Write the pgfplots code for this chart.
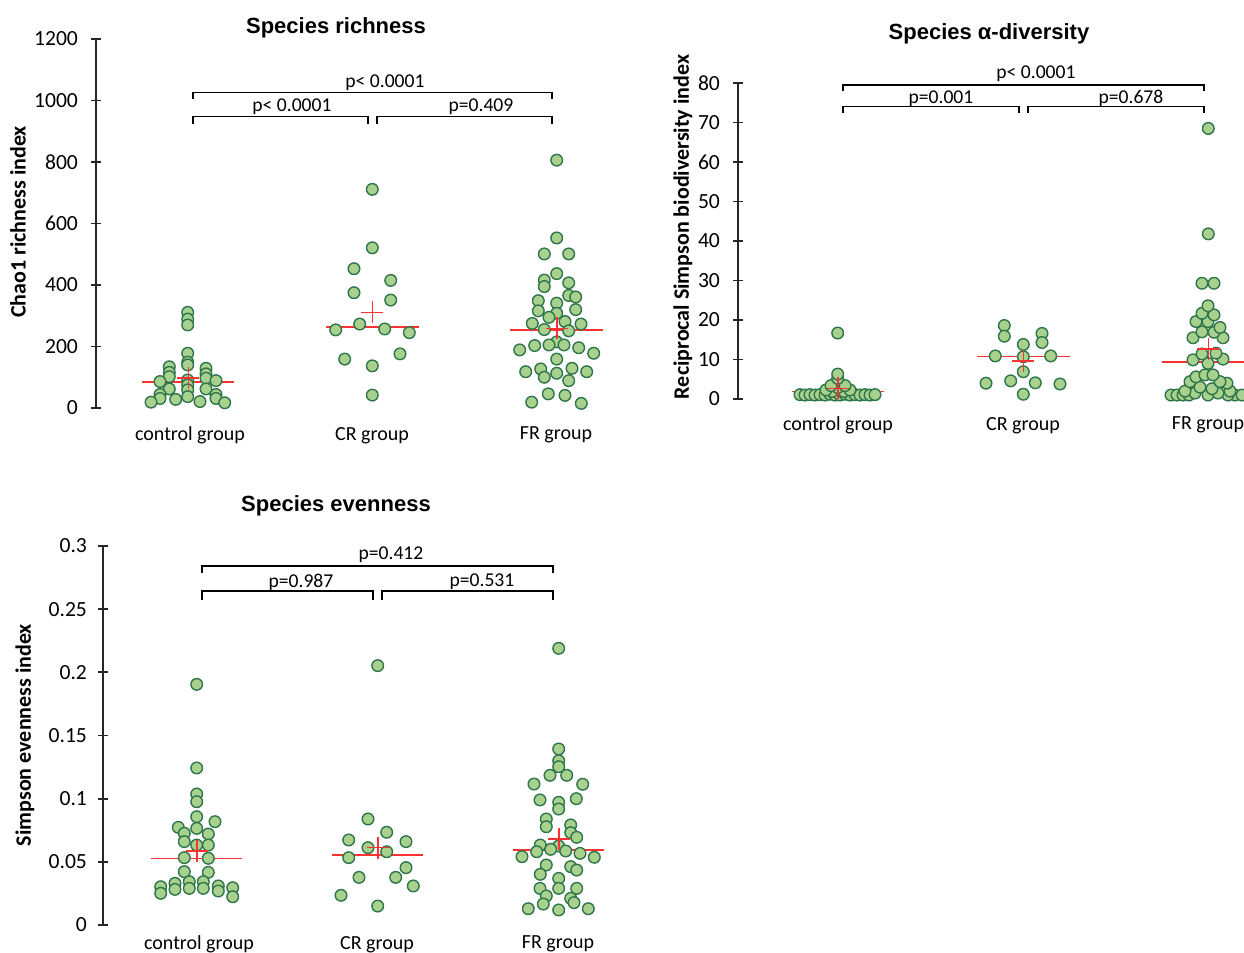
\documentclass[border=0pt]{standalone}
\usepackage{fontspec}
\setmainfont{Carlito}
\newfontfamily\titlefont{Liberation Sans}
\usepackage{pgfplots}
\pgfplotsset{compat=1.18}

\definecolor{ptfill}{RGB}{169,209,142}
\definecolor{ptedge}{RGB}{46,117,74}
\definecolor{medred}{RGB}{255,50,50}

\pgfplotsset{
 dotpanel/.style={
  scale only axis, clip=false,
  axis x line=bottom, axis y line=left,
  x axis line style={draw=none},
  y axis line style={-, line width=0.9pt, black!85},
  xtick style={draw=none},
  ytick style={line width=0.9pt, black!85},
  tick align=center, major tick length=5pt,
  yticklabel style={font=\fontsize{10.8}{12}\selectfont, xshift=-3pt},
  xticklabel style={font=\fontsize{10}{12}\selectfont},
  scaled y ticks=false,
 },
 pts/.style={only marks, mark=*, mark size=2.9pt, mark options={fill=ptfill, draw=ptedge, line width=0.7pt}},
 med/.style={medred, line width=0.7pt, no marks},
 mean/.style={only marks, mark=+, mark size=5.5pt, mark options={medred, line width=0.8pt}},
}

\begin{document}
\begin{tikzpicture}
\useasboundingbox (0,0) rectangle (622pt,-476.5pt);

% ---------- Panel 1: Species richness
\begin{axis}[dotpanel, at={(48pt,-204pt)}, anchor=south west,
  width=262pt, height=184.5pt, xmin=96, xmax=620, ymin=0, ymax=1200,
  ytick={0,200,400,600,800,1000,1200}, yticklabels={0,200,400,600,800,1000,1200},
  xticklabel style={yshift=-3.5pt},
  xtick={190,372,556}, xticklabels={control group,CR group,FR group}]
\addplot[pts] table {
x y
187.7 311
187.7 289
187.7 270
187.7 178
187.7 149
187.7 140
169.3 134
169.3 116
169.3 102
206 129
206 111
206 97
160 86
216 89
187.7 91
187.7 75
187.7 59
187.7 37
169.3 62
206 62
160 44
160 31
216 44
216 31
151 19
175.7 28
200 21
224.7 17
};
\addplot[pts] table {
x y
372.3 711
372.3 521
354 453
390.7 415
354 375
390.7 351
359.7 273
335.7 254
384.7 257
409.3 245
344.7 159
400 176
372.3 137
372.3 42
};
\addplot[pts] table {
x y
556.7 806
556.7 553
544.3 501
568.7 501
556.7 437
544.3 416
544.3 395
568.7 407
568.7 366
575.7 361
538.3 349
556.7 341
538.3 316
575.7 320
556.7 308
549 295
565 281
532.3 275
581 273
544.3 255
568.7 251
556.7 215
549 205
564 205
534.7 203
578.7 196
519.7 189
593.7 178
556.7 159
525.7 118
540.7 127
544.3 100
556.7 113
572 129
586.7 118
568.7 89
548.3 46
565 41
531.7 19
581.3 15
};
\addplot[med] coordinates {(141.7,84) (234.3,84)};
\addplot[med] coordinates {(326,264) (418.7,264)};
\addplot[med] coordinates {(510,254) (603,254)};
\addplot[mean] coordinates {(188.3,97) (372.3,311) (556.7,259)};
\end{axis}

% ---------- Panel 2: alpha diversity
\begin{axis}[dotpanel, at={(369pt,-199.5pt)}, anchor=south west,
  width=261pt, height=158pt, xmin=738, xmax=1260, ymin=0, ymax=80,
  ytick={0,10,...,80}, yticklabels={0,10,20,30,40,50,60,70,80},
  xticklabel style={yshift=-3pt},
  xtick={838,1023,1208}, xticklabels={control group,CR group,FR group}]
\addplot[pts] table {
x y
800 1.1
805 1.0
810 1.1
815 1.0
820 1.1
825 1.0
830 1.2
835 1.0
840 1.0
845 1.2
850 1.0
855 1.1
860 1.0
865 1.1
870 1.0
875 1.1
832 1.9
844 1.9
826 2.3
850 2.3
837.7 2.9
831 3.4
845 3.4
837.7 5.2
837.7 6.3
837.7 16.7
};
\addplot[pts] table {
x y
1004.3 18.6
1004.3 15.9
1042 16.6
1042 14.3
1023.3 13.8
995.3 10.9
1023.3 10.7
1050.7 10.9
1023.3 6.9
986 4.0
1010.7 4.6
1035.3 4.1
1060 3.8
1023.3 1.2
};
\addplot[pts] table {
x y
1171 1.0
1177 1.0
1183 1.0
1189 1.0
1235 1.0
1242 1.0
1228 1.0
1208 1.0
1195 1.5
1218 1.5
1185 2.0
1230 2.0
1200 3.0
1212 2.6
1227 4.0
1190 4.4
1220 4.4
1196 5.6
1205 6.1
1213 6.1
1208 9.0
1193 9.9
1223 10.1
1202 11.4
1216 11.6
1193 15.5
1223 15.5
1202 17.0
1214 16.9
1220 18.1
1196 19.6
1208 19.6
1202 21.7
1214 21.3
1208 23.6
1202 29.3
1214 29.3
1208.3 41.8
1208.3 68.5
};
\addplot[med] coordinates {(791.7,1.85) (884,1.85)};
\addplot[med] coordinates {(976.7,10.7) (1070,10.7)};
\addplot[med] coordinates {(1161.7,9.4) (1255,9.4)};
\addplot[mean] coordinates {(837.7,2.7) (1023.3,9.6) (1208.3,12.6)};
\end{axis}

% ---------- Panel 3: evenness
\begin{axis}[dotpanel, at={(51.5pt,-462.5pt)}, anchor=south west,
  width=258.5pt, height=189.5pt, xmin=103, xmax=620, ymin=0, ymax=0.3,
  ytick={0,0.05,0.1,0.15,0.2,0.25,0.3}, yticklabels={0,0.05,0.1,0.15,0.2,0.25,0.3},
  yticklabel style={xshift=1pt},
  xticklabel style={yshift=0.5pt},
  xtick={199,377,558}, xticklabels={control group,CR group,FR group}]
\addplot[pts] table {
x y
196.7 0.1905
196.7 0.1243
196.7 0.1037
196.7 0.0976
196.7 0.0857
215 0.0818
178.3 0.0773
196.7 0.0765
184.3 0.0726
208.3 0.072
184.3 0.066
208.3 0.0633
196.7 0.0633
184.3 0.0533
208.3 0.0528
184.3 0.0422
208.3 0.0417
189.3 0.0343
203.3 0.0343
189.3 0.029
203.3 0.029
175 0.033
175 0.0282
160.7 0.0303
160.7 0.0251
218.3 0.0309
218.3 0.0269
232.7 0.0295
232.7 0.0224
};
\addplot[pts] table {
x y
377.7 0.2053
368 0.0839
386.7 0.0734
348.7 0.0673
406 0.066
368 0.0612
386.7 0.058
348.7 0.0533
406 0.0454
359 0.0377
395.7 0.0377
413.3 0.0309
341 0.0235
377.7 0.015
};
\addplot[pts] table {
x y
558.7 0.219
558.7 0.1393
558.7 0.130
558.7 0.1253
550 0.1185
566.7 0.1185
534 0.1116
582.7 0.1114
540 0.099
558.7 0.0971
558.7 0.0918
576.3 0.100
546.3 0.0839
546.3 0.0778
570.7 0.0792
570.7 0.0731
576.7 0.0694
558.7 0.0625
540.3 0.0633
550.7 0.0599
565.7 0.0586
536.7 0.058
580 0.0567
522 0.0541
594.3 0.0536
546.3 0.0475
570.7 0.0462
576.7 0.0435
540.3 0.0401
558.7 0.0369
540 0.029
558.7 0.029
576.7 0.029
546.3 0.023
570.7 0.0211
574 0.0177
543.3 0.0166
528.3 0.0129
558.7 0.0119
588.3 0.0129
};
\addplot[med] coordinates {(151,0.0528) (242.3,0.0528)};
\addplot[med] coordinates {(331.7,0.0554) (423.3,0.0554)};
\addplot[med] coordinates {(512.7,0.0594) (604,0.0594)};
\addplot[mean] coordinates {(196.7,0.0588) (377.7,0.0612) (558.7,0.068)};
\end{axis}

% ---------- annotations (pixel coordinates)
\begin{scope}[x=0.5pt,y=-0.5pt]
\tikzset{pl/.style={font=\fontsize{9.8}{11}\selectfont, inner sep=0pt}}
\tikzset{br/.style={line width=0.6pt}}
% titles
\node[font=\titlefont\bfseries\fontsize{11}{13}\selectfont] at (336,28) {Species richness};
\node[font=\titlefont\bfseries\fontsize{11}{13}\selectfont] at (989,34) {Species α-diversity};
\node[font=\titlefont\bfseries\fontsize{11}{13}\selectfont] at (336,506) {Species evenness};
% y labels
\node[rotate=90, font=\bfseries\fontsize{11}{13}\selectfont] at (18,222) {Chao1 richness index};
\node[rotate=90, font=\bfseries\fontsize{11}{13}\selectfont] at (683,227) {Reciprocal Simpson biodiversity index};
\node[rotate=90, font=\bfseries\fontsize{11}{13}\selectfont] at (25,735) {Simpson evenness index};
% panel 1 brackets
\draw[br] (193,99) -- (193,92.3) -- (552,92.3) -- (552,99);
\draw[br] (193,123.5) -- (193,116.5) -- (368,116.5) -- (368,123.5);
\draw[br] (377,123.5) -- (377,116.5) -- (552,116.5) -- (552,123.5);
\node[pl] at (385,83) {p< 0.0001};
\node[pl] at (292,107) {p< 0.0001};
\node[pl] at (481,107) {p=0.409};
% panel 2 brackets
\draw[br] (843,91) -- (843,85) -- (1204,85) -- (1204,91);
\draw[br] (843,113) -- (843,106.5) -- (1019,106.5) -- (1019,113);
\draw[br] (1028,113) -- (1028,106.5) -- (1204,106.5) -- (1204,113);
\node[pl] at (1036,74) {p< 0.0001};
\node[pl] at (941,98.5) {p=0.001};
\node[pl] at (1131,98.5) {p=0.678};
% panel 3 brackets
\draw[br] (202,573) -- (202,566) -- (553,566) -- (553,573);
\draw[br] (202,600) -- (202,591) -- (373,591) -- (373,600);
\draw[br] (382,600) -- (382,591) -- (553,591) -- (553,600);
\node[pl] at (391,555) {p=0.412};
\node[pl] at (301,582) {p=0.987};
\node[pl] at (482,582) {p=0.531};
\end{scope}
\end{tikzpicture}
\end{document}
